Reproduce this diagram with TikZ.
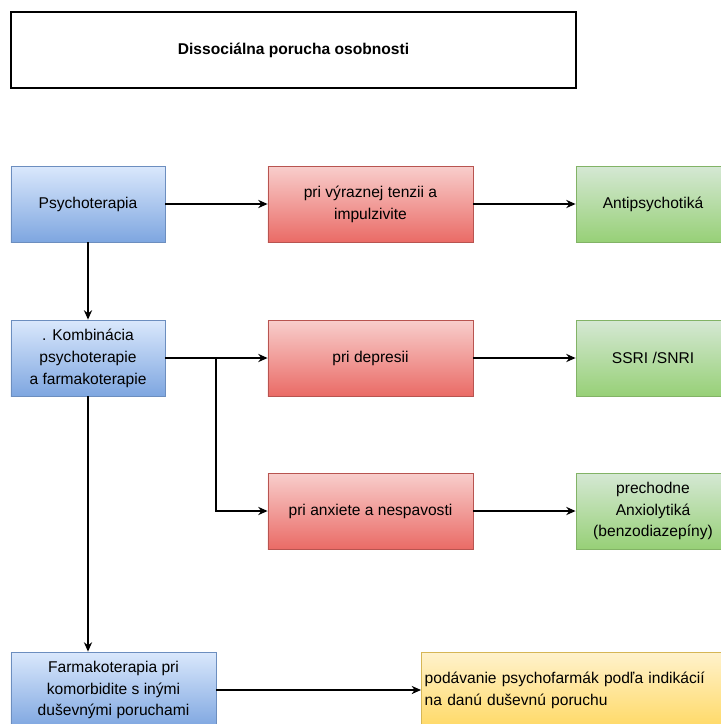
\documentclass[tikz,border=0pt]{standalone}
\usepackage{fontspec}
\setmainfont{Liberation Sans}
\usepackage{tikz}
\usetikzlibrary{arrows.meta,shadows,positioning}
\definecolor{azulA}{HTML}{DAE8FC}
\definecolor{azulB}{HTML}{7EA6E0}
\definecolor{azulC}{HTML}{6C8EBF}
\definecolor{rojoA}{HTML}{F8CECC}
\definecolor{rojoB}{HTML}{EA6B66}
\definecolor{rojoC}{HTML}{B85450}
\definecolor{verdeA}{HTML}{D5E8D4}
\definecolor{verdeB}{HTML}{97D077}
\definecolor{verdeC}{HTML}{82B366}
\definecolor{amarA}{HTML}{FFF2CC}
\definecolor{amarB}{HTML}{FFD966}
\definecolor{amarC}{HTML}{D6B656}
\tikzset{
  caja/.style={rectangle,line width=0.7pt,minimum width=4.62cm,minimum height=2.28cm,
    align=center,inner sep=2pt,font=\fontsize{13.3}{18.7}\selectfont},
  azul/.style={caja,top color=azulA,bottom color=azulB,draw=azulC},
  rojo/.style={caja,top color=rojoA,bottom color=rojoB,draw=rojoC,minimum width=6.15cm},
  verde/.style={caja,top color=verdeA,bottom color=verdeB,draw=verdeC},
  flecha/.style={-{Stealth[length=8pt,width=7pt]},line width=1.1pt}
}
\begin{document}
\begin{tikzpicture}[x=0.03cm,y=-0.03cm]
\useasboundingbox (0,0) rectangle (720,724);
% titulo
\node[caja,draw=black,fill=white,minimum width=16.95cm,line width=0.9pt,
  drop shadow={shadow xshift=1.2pt,shadow yshift=-1.2pt,fill=gray!70,opacity=1},
  font=\fontsize{13.3}{18.7}\selectfont\bfseries] (titulo) at (293.5,50) {Dissociálna porucha osobnosti};
% riadok 1
\node[azul] (psycho) at (88,204) {Psychoterapia};
\node[rojo] (tenzia) at (370.5,204) {pri výraznej tenzii a\\impulzivite};
\node[verde] (antips) at (653,204) {Antipsychotiká};
% riadok 2
\node[azul] (komb) at (88,358) {. Kombinácia\\psychoterapie\\a farmakoterapie};
\node[rojo] (depr) at (370.5,358) {pri depresii};
\node[verde] (ssri) at (653,358) {SSRI /SNRI};
% riadok 3
\node[rojo] (anx) at (370.5,511) {pri anxiete a nespavosti};
\node[verde] (anxiol) at (653,511) {prechodne\\Anxiolytiká\\(benzodiazepíny)};
% riadok 4
\node[azul,minimum width=6.15cm] (farmako) at (113.5,690) {Farmakoterapia pri\\komorbidite s inými\\duševnými poruchami};
\node[caja,top color=amarA,bottom color=amarB,draw=amarC,minimum width=9.3cm,
  align=left,anchor=west,text width=9.1cm] (podav) at (421,690) {podávanie psychofarmák podľa indikácií\\na danú duševnú poruchu};
% sipky
\draw[flecha] (psycho) -- (tenzia);
\draw[flecha] (tenzia) -- (antips);
\draw[flecha] (psycho) -- (komb);
\draw[flecha] (komb) -- (depr);
\draw[flecha] (depr) -- (ssri);
\coordinate (rama) at (216,358);
\draw[flecha] (rama) |- (anx);
\draw[flecha] (anx) -- (anxiol);
\draw[flecha] (komb.south) -- (komb.south |- farmako.north);
\draw[flecha] (farmako) -- (podav);
\end{tikzpicture}
\end{document}
